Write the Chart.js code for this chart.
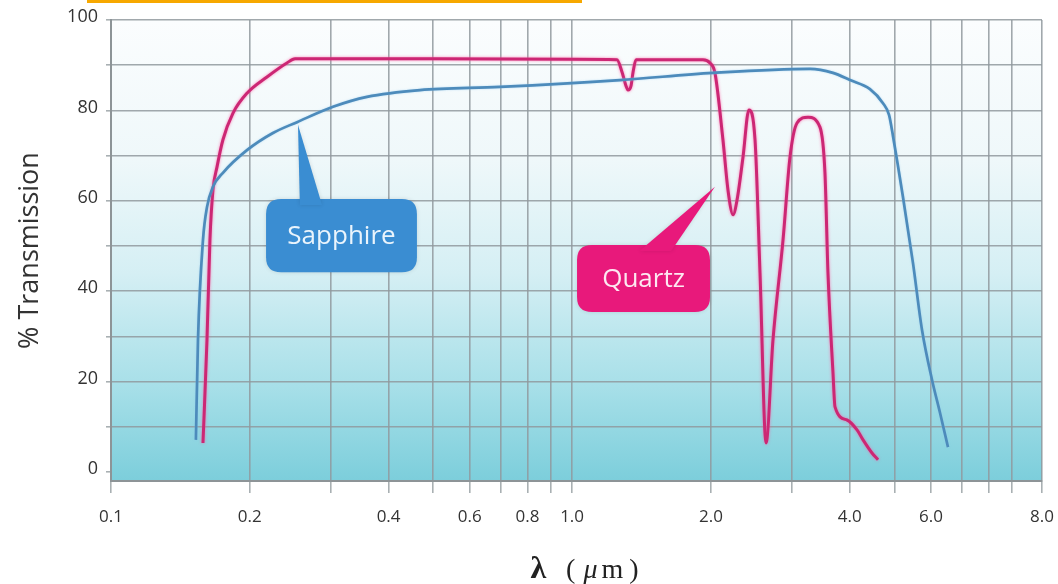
<!DOCTYPE html>
<html>
<head>
<meta charset="utf-8">
<script src="https://cdn.jsdelivr.net/npm/chart.js@4.4.1/dist/chart.umd.min.js"></script>
<style>
html,body{margin:0;padding:0;background:#ffffff;}
#wrap{position:relative;width:1058px;height:584px;overflow:hidden;}
#hl{position:absolute;left:87px;top:0;width:495px;height:3px;background:#f7a800;}
canvas{display:block;}
</style>
</head>
<body>
<div id="wrap"><canvas id="c" width="1058" height="584"></canvas><div id="hl"></div></div>
<script>
// ---------------- data ----------------
const X_MIN = 0.1;
const X_MAX = 10.45;
const Y_MIN = -2;
const Y_MAX = 100;

const X_GRID = [0.1,0.2,0.3,0.4,0.5,0.6,0.7,0.8,0.9,1,2,3,4,5,6,7,8,9,10.45];
const X_TICK_VALUES = [0.1,0.2,0.4,0.6,0.8,1,2,4,6,10.45];
const X_TICK_LABELS = ['0.1','0.2','0.4','0.6','0.8','1.0','2.0','4.0','6.0','8.0'];
const Y_GRID = [0,10,20,30,40,50,60,70,80,90,100];
const Y_TICK_VALUES = [0,20,40,60,80,100];

const SAPPHIRE_X = [0.1528,0.1544,0.1583,0.1615,0.1664,0.1749,0.1972,0.2245,0.2532,0.3030,0.3590,0.4679,0.6976,1.270,2.021,3.281,3.680,4.006,4.426,4.723,4.868,4.966,5.066,5.220,5.487,5.740,6.033,6.279,6.535];
const SAPPHIRE_Y = [7.1,29.2,51.3,58.6,63.1,66.2,71.2,75.0,77.4,80.8,83.0,84.5,85.2,86.7,88.3,89.2,88.3,86.7,84.7,81.6,79.0,74.3,69.0,60.8,46.2,31.4,20.4,13.1,5.5];

const QUARTZ_X = [0.1583,0.1615,0.1639,0.1664,0.1698,0.1749,0.1839,0.1972,0.2179,0.2407,0.2507,0.5,1.0,1.251,1.283,1.309,1.322,1.342,1.356,1.376,1.922,1.991,2.041,2.124,2.178,2.234,2.279,2.348,2.418,2.493,2.556,2.634,2.727,2.867,2.969,3.075,3.249,3.448,3.535,3.589,3.680,3.717,3.947,4.149,4.276,4.471,4.608];
const QUARTZ_Y = [6.4,29.2,51.3,62.4,67.5,73.5,79.4,83.8,87.4,90.5,91.4,91.4,91.3,91.2,88.5,85.4,84.5,85.4,88.5,91.2,91.2,90.5,88.3,73.5,62.4,56.9,60.2,69.7,80.1,73.5,44.0,6.4,29.2,51.3,69.7,77.2,78.5,76.3,66.2,44.0,21.9,14.4,11.5,9.3,7.1,4.2,2.7];

const SERIES_NAMES = ['Sapphire','Quartz'];

// callout anchors in data units
const CALLOUTS = [
  {text:'Sapphire', x0:0.2169, x1:0.4608, y0:44.2, y1:60.4, tipX:0.2544, tipY:76.8, baseX0:0.2568, baseX1:0.2869, fill:'#3a8dd2', textColor:'#eaf4fc'},
  {text:'Quartz', x0:1.025, x1:1.991, y0:35.4, y1:50.2, tipX:2.041, tipY:63.1, baseX0:1.40, baseX1:1.64, fill:'#e8197b', textColor:'#fde8f1'}
];

// ---------------- styling ----------------
const GRID = 'rgba(145,153,158,0.85)';
const AXIS = '#8d9497';
const TICK_FONT = "'Open Sans',sans-serif";

const toPts = (xs, ys) => xs.map((x,i)=>({x:x, y:ys[i]}));

const bgPlugin = {
  id:'bg',
  beforeDraw(chart){
    const {ctx, chartArea:a} = chart;
    const g = ctx.createLinearGradient(0, a.top, 0, a.bottom);
    g.addColorStop(0, '#fbfdfe');
    g.addColorStop(0.3, '#eff8fa');
    g.addColorStop(0.55, '#d5eff4');
    g.addColorStop(0.8, '#a6dfe8');
    g.addColorStop(1, '#7ccedb');
    ctx.save();
    ctx.fillStyle = g;
    ctx.fillRect(a.left, a.top, a.right-a.left, a.bottom-a.top);
    ctx.restore();
  }
};

const glowPlugin = {
  id:'glow',
  beforeDatasetDraw(chart, args){
    const ctx = chart.ctx;
    ctx.save();
    if (args.index === 1) { ctx.shadowColor = 'rgba(255,90,160,0.75)'; ctx.shadowBlur = 3; }
    else { ctx.shadowColor = 'rgba(140,200,240,0.6)'; ctx.shadowBlur = 2; }
  },
  afterDatasetDraw(chart){ chart.ctx.restore(); }
};

function roundRect(ctx, x, y, w, h, r){
  ctx.beginPath();
  ctx.moveTo(x+r, y);
  ctx.lineTo(x+w-r, y); ctx.quadraticCurveTo(x+w, y, x+w, y+r);
  ctx.lineTo(x+w, y+h-r); ctx.quadraticCurveTo(x+w, y+h, x+w-r, y+h);
  ctx.lineTo(x+r, y+h); ctx.quadraticCurveTo(x, y+h, x, y+h-r);
  ctx.lineTo(x, y+r); ctx.quadraticCurveTo(x, y, x+r, y);
  ctx.closePath();
}

const calloutPlugin = {
  id:'callouts',
  afterDatasetsDraw(chart){
    const {ctx, scales:{x, y}} = chart;
    CALLOUTS.forEach(c => {
      const l = x.getPixelForValue(c.x0), r = x.getPixelForValue(c.x1);
      const t = y.getPixelForValue(c.y1), b = y.getPixelForValue(c.y0);
      const tx = x.getPixelForValue(c.tipX), ty = y.getPixelForValue(c.tipY);
      const bx0 = x.getPixelForValue(c.baseX0), bx1 = x.getPixelForValue(c.baseX1);
      ctx.save();
      ctx.shadowColor = 'rgba(0,0,0,0.12)';
      ctx.shadowBlur = 4;
      ctx.fillStyle = c.fill;
      roundRect(ctx, l, t, r-l, b-t, 15);
      ctx.fill();
      ctx.beginPath();
      ctx.moveTo(bx0, t+6); ctx.lineTo(tx, ty); ctx.lineTo(bx1, t+6); ctx.closePath();
      ctx.fill();
      ctx.shadowBlur = 0;
      ctx.fillStyle = c.textColor;
      ctx.font = "26px 'Open Sans', sans-serif";
      ctx.textAlign = 'center';
      ctx.textBaseline = 'middle';
      ctx.fillText(c.text, (l+r)/2, (t+b)/2 + 1);
      ctx.restore();
    });
  }
};

const xTitlePlugin = {
  id:'xTitle',
  afterDraw(chart){
    const {ctx, chartArea:a} = chart;
    const segs = [
      {t:'λ', f:"bold 32px 'Liberation Serif', serif", gap:20},
      {t:'(', f:"28px 'Liberation Serif', serif", gap:8},
      {t:'μ', f:"italic 28px 'Liberation Serif', serif", gap:4},
      {t:'m', f:"28px 'Liberation Serif', serif", gap:6},
      {t:')', f:"28px 'Liberation Serif', serif", gap:0}
    ];
    ctx.save();
    ctx.fillStyle = '#222';
    ctx.textBaseline = 'alphabetic';
    let w = 0;
    segs.forEach(s => { ctx.font = s.f; s.w = ctx.measureText(s.t).width; w += s.w + s.gap; });
    let cx = (a.left + a.right)/2 + 8 - w/2;
    segs.forEach(s => { ctx.font = s.f; ctx.fillText(s.t, cx, 578); cx += s.w + s.gap; });
    ctx.restore();
  }
};

new Chart(document.getElementById('c'), {
  type:'line',
  data:{
    datasets:[
      {label:SERIES_NAMES[0], data:toPts(SAPPHIRE_X, SAPPHIRE_Y), borderColor:'#4d8bbb', borderWidth:2.7, pointRadius:0, cubicInterpolationMode:'monotone', fill:false},
      {label:SERIES_NAMES[1], data:toPts(QUARTZ_X, QUARTZ_Y), borderColor:'#cc2774', borderWidth:3, pointRadius:0, cubicInterpolationMode:'monotone', fill:false}
    ]
  },
  options:{
    responsive:false,
    animation:false,
    devicePixelRatio:1,
    layout:{padding:{left:0, right:16, top:20, bottom:0}},
    plugins:{legend:{display:false}, tooltip:{enabled:false}},
    scales:{
      x:{
        type:'logarithmic', min:X_MIN, max:X_MAX,
        afterBuildTicks: s => { s.ticks = X_GRID.map(v => ({value:v})); },
        afterFit: s => { s.height = 103; s.paddingLeft = 0; s.paddingRight = 0; },
        grid:{color:GRID, lineWidth:1.6, drawTicks:true, tickLength:12, tickColor:'#a9b0b3'},
        border:{color:AXIS, width:2},
        ticks:{
          autoSkip:false, maxRotation:0, minRotation:0, padding:14, color:'#333',
          font:{family:TICK_FONT, size:17},
          callback: v => { const i = X_TICK_VALUES.indexOf(v); return i < 0 ? '' : X_TICK_LABELS[i]; }
        }
      },
      y:{
        type:'linear', min:Y_MIN, max:Y_MAX,
        afterBuildTicks: s => { s.ticks = Y_GRID.map(v => ({value:v})); },
        afterFit: s => { s.width = 111; },
        grid:{color: c => (c.tick && c.tick.value === 0) ? 'rgba(0,0,0,0)' : GRID, lineWidth:1.6, tickLength:5, tickColor:'#a9b0b3'},
        border:{color:AXIS, width:2},
        ticks:{
          padding:8, color:'#333', labelOffset:-3,
          font:{family:TICK_FONT, size:18},
          callback: v => Y_TICK_VALUES.includes(v) ? String(v) : ''
        },
        title:{display:true, text:'% Transmission', color:'#333', font:{family:"'Open Sans',sans-serif", size:27}, padding:{top:14, bottom:0}}
      }
    }
  },
  plugins:[bgPlugin, glowPlugin, calloutPlugin, xTitlePlugin]
});
</script>
</body>
</html>
